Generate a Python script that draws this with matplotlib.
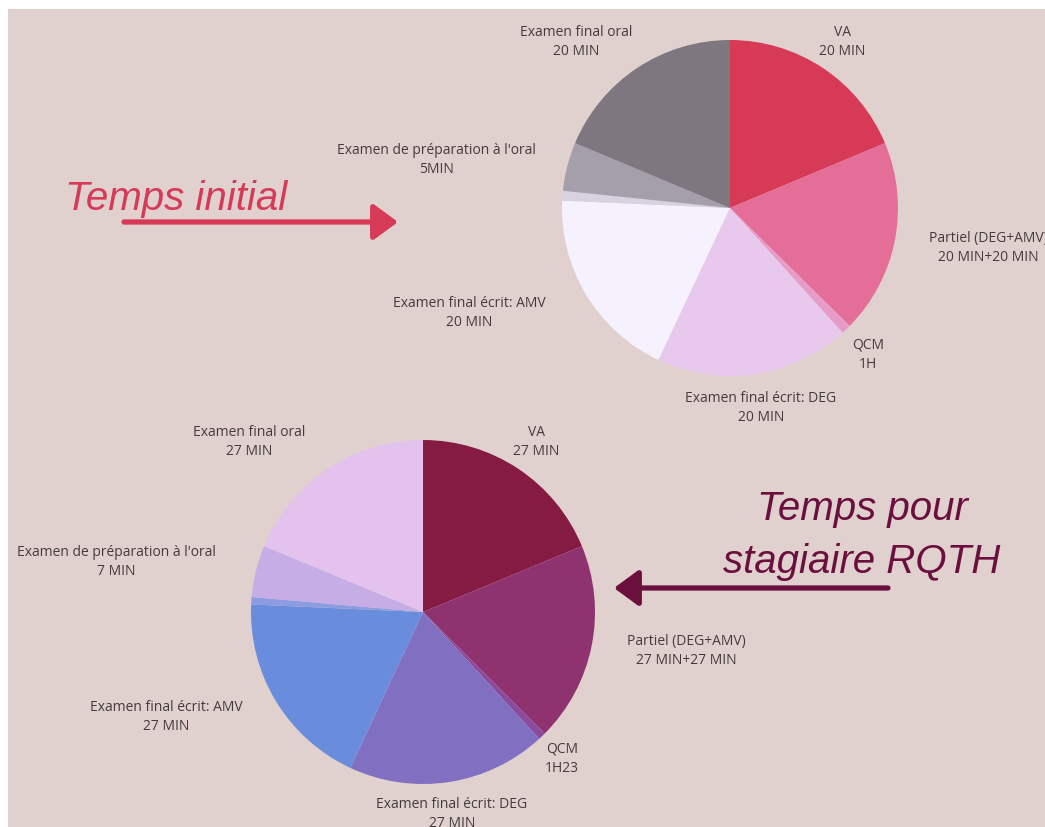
import matplotlib
matplotlib.use("Agg")
import matplotlib.pyplot as plt
from matplotlib.patches import Rectangle

W, H = 1045, 827

# slices, clockwise from 12 o'clock (the 6th slice is an unlabeled sliver)
initial_values = [20, 20, 1, 20, 20, 1, 5, 20]
initial_labels = ["VA\n20 MIN", "Partiel (DEG+AMV)\n20 MIN+20 MIN", "QCM\n1H",
                  "Examen final écrit: DEG\n20 MIN", "Examen final écrit: AMV\n20 MIN",
                  "", "Examen de préparation à l'oral\n5MIN", "Examen final oral\n20 MIN"]
initial_colors = ["#d63a57", "#e56e99", "#e79bc8", "#e9c8ee", "#f5f1fd",
                  "#d6d2e0", "#a59fab", "#7e7780"]

rqth_values = [27, 27, 1, 27, 27, 1, 7, 27]
rqth_labels = ["VA\n27 MIN", "Partiel (DEG+AMV)\n27 MIN+27 MIN", "QCM\n1H23",
               "Examen final écrit: DEG\n27 MIN", "Examen final écrit: AMV\n27 MIN",
               "", "Examen de préparation à l'oral\n7 MIN", "Examen final oral\n27 MIN"]
rqth_colors = ["#851a42", "#8f3370", "#8a4a9e", "#8170c1", "#6a8cdd",
               "#8c9be2", "#c6ade6", "#e4c2ee"]

# label centres in pixel coords (y measured from top)
initial_pos = [(842, 42), (988, 248), (868, 355), (761, 408), (469, 313),
               None, (436, 160), (576, 42)]
rqth_pos = [(536, 442), (686, 651), (562, 759), (452, 814), (166, 717),
            None, (116, 562), (249, 442)]

def fy(y):
    return H - y

fig = plt.figure(figsize=(W / 100, H / 100), dpi=100, facecolor="white")
ax = fig.add_axes([0, 0, 1, 1])
ax.add_patch(Rectangle((8, 0), W - 8, H - 9, facecolor="#e1d1ce", edgecolor="none", zorder=0))

text_kw = dict(family="Open Sans", fontsize=10, color="#433b3d",
               ha="center", va="center", linespacing=1.45, zorder=5)

for values, colors, labels, pos, center, r in [
        (initial_values, initial_colors, initial_labels, initial_pos, (730, 208), 168),
        (rqth_values, rqth_colors, rqth_labels, rqth_pos, (423, 612), 172)]:
    ax.pie(values, colors=colors, startangle=90, counterclock=False,
           center=(center[0], fy(center[1])), radius=r,
           wedgeprops=dict(linewidth=0, zorder=2))
    for lab, p in zip(labels, pos):
        if p is not None:
            ax.text(p[0], fy(p[1]), lab, **text_kw)

ax.set_xlim(0, W)
ax.set_ylim(0, H)
ax.axis("off")

# titles and arrows
red = "#d63a57"
wine = "#6b0f3e"
head = "-|>,head_length=0.75,head_width=0.55"
ax.text(65, fy(210), "Temps initial", family="Liberation Sans", style="italic",
        fontsize=29, color=red, ha="left", va="baseline")
ax.annotate("", xy=(398, fy(222)), xytext=(124, fy(222)),
            arrowprops=dict(arrowstyle=head, lw=3.8, color=red,
                            mutation_scale=20, shrinkA=0, shrinkB=0))

ax.text(862, fy(520), "Temps pour", family="Liberation Sans", style="italic",
        fontsize=29, color=wine, ha="center", va="baseline")
ax.text(862, fy(573), "stagiaire RQTH", family="Liberation Sans", style="italic",
        fontsize=29, color=wine, ha="center", va="baseline")
ax.annotate("", xy=(614, fy(588)), xytext=(888, fy(588)),
            arrowprops=dict(arrowstyle=head, lw=3.8, color=wine,
                            mutation_scale=20, shrinkA=0, shrinkB=0))

fig.savefig("out.png", dpi=100, facecolor="white")
